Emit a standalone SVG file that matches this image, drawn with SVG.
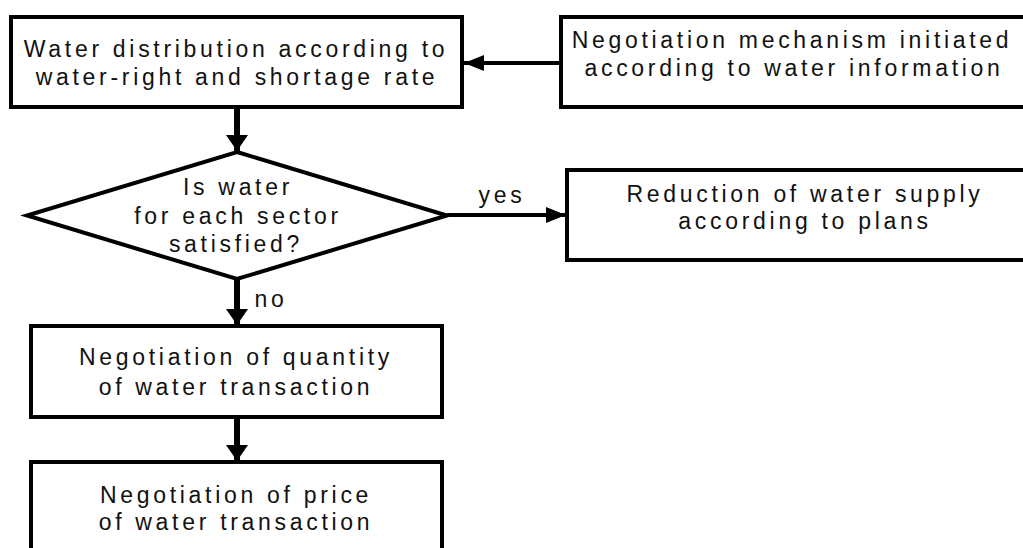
<svg xmlns="http://www.w3.org/2000/svg" width="1023" height="548" viewBox="0 0 1023 548">
  <style>
    .box { fill: #fff; stroke: #000; stroke-width: 4; }
    .lbl { font-family: "Liberation Sans", Arial, sans-serif; font-size: 23px; letter-spacing: 3.7px; fill: #111; text-anchor: middle; }
    .h { stroke: #000; stroke-width: 4; fill: none; }
    .v { stroke: #000; stroke-width: 6; fill: none; }
  </style>
  <defs>
    <marker id="ah" markerUnits="userSpaceOnUse" markerWidth="20" markerHeight="16" refX="20" refY="8" orient="auto">
      <path d="M0,0 L20,8 L0,16 Z" fill="#000"/>
    </marker>
    <marker id="av" markerUnits="userSpaceOnUse" markerWidth="16" markerHeight="22" refX="16" refY="11" orient="auto">
      <path d="M0,0 L16,11 L0,22 Z" fill="#000"/>
    </marker>
  </defs>
  <rect width="1023" height="548" fill="#fff"/>

  <g id="connectors">
    <line class="h" x1="561" y1="63" x2="464" y2="63" marker-end="url(#ah)"/>
    <line class="v" x1="237" y1="109" x2="237" y2="151" marker-end="url(#av)"/>
    <line class="h" x1="447" y1="215" x2="566" y2="215" marker-end="url(#ah)"/>
    <line class="v" x1="237" y1="280" x2="237" y2="325" marker-end="url(#av)"/>
    <line class="v" x1="237" y1="419" x2="237" y2="461" marker-end="url(#av)"/>
    <text class="lbl" x="502" y="203">yes</text>
    <text class="lbl" x="271" y="307">no</text>
  </g>

  <g id="water-distribution">
    <rect class="box" x="11" y="17" width="451" height="90"/>
    <text class="lbl" x="236" y="57">Water distribution according to</text>
    <text class="lbl" x="237" y="85">water-right and shortage rate</text>
  </g>

  <g id="negotiation-mechanism">
    <rect class="box" x="561" y="17" width="480" height="90"/>
    <text class="lbl" x="792" y="48">Negotiation mechanism initiated</text>
    <text class="lbl" x="794" y="76">according to water information</text>
  </g>

  <g id="decision">
    <polygon class="box" points="237,152 447,215.5 237,279 27,215.5"/>
    <text class="lbl" x="238" y="195">Is water</text>
    <text class="lbl" x="238" y="224">for each sector</text>
    <text class="lbl" x="236" y="252">satisfied?</text>
  </g>

  <g id="reduction">
    <rect class="box" x="567" y="170" width="480" height="90"/>
    <text class="lbl" x="805" y="202">Reduction of water supply</text>
    <text class="lbl" x="805" y="229">according to plans</text>
  </g>

  <g id="negotiation-quantity">
    <rect class="box" x="31" y="326" width="411" height="91"/>
    <text class="lbl" x="236" y="365">Negotiation of quantity</text>
    <text class="lbl" x="236" y="395">of water transaction</text>
  </g>

  <g id="negotiation-price">
    <rect class="box" x="31" y="462" width="411" height="110"/>
    <text class="lbl" x="236" y="503">Negotiation of price</text>
    <text class="lbl" x="236" y="530">of water transaction</text>
  </g>
</svg>
